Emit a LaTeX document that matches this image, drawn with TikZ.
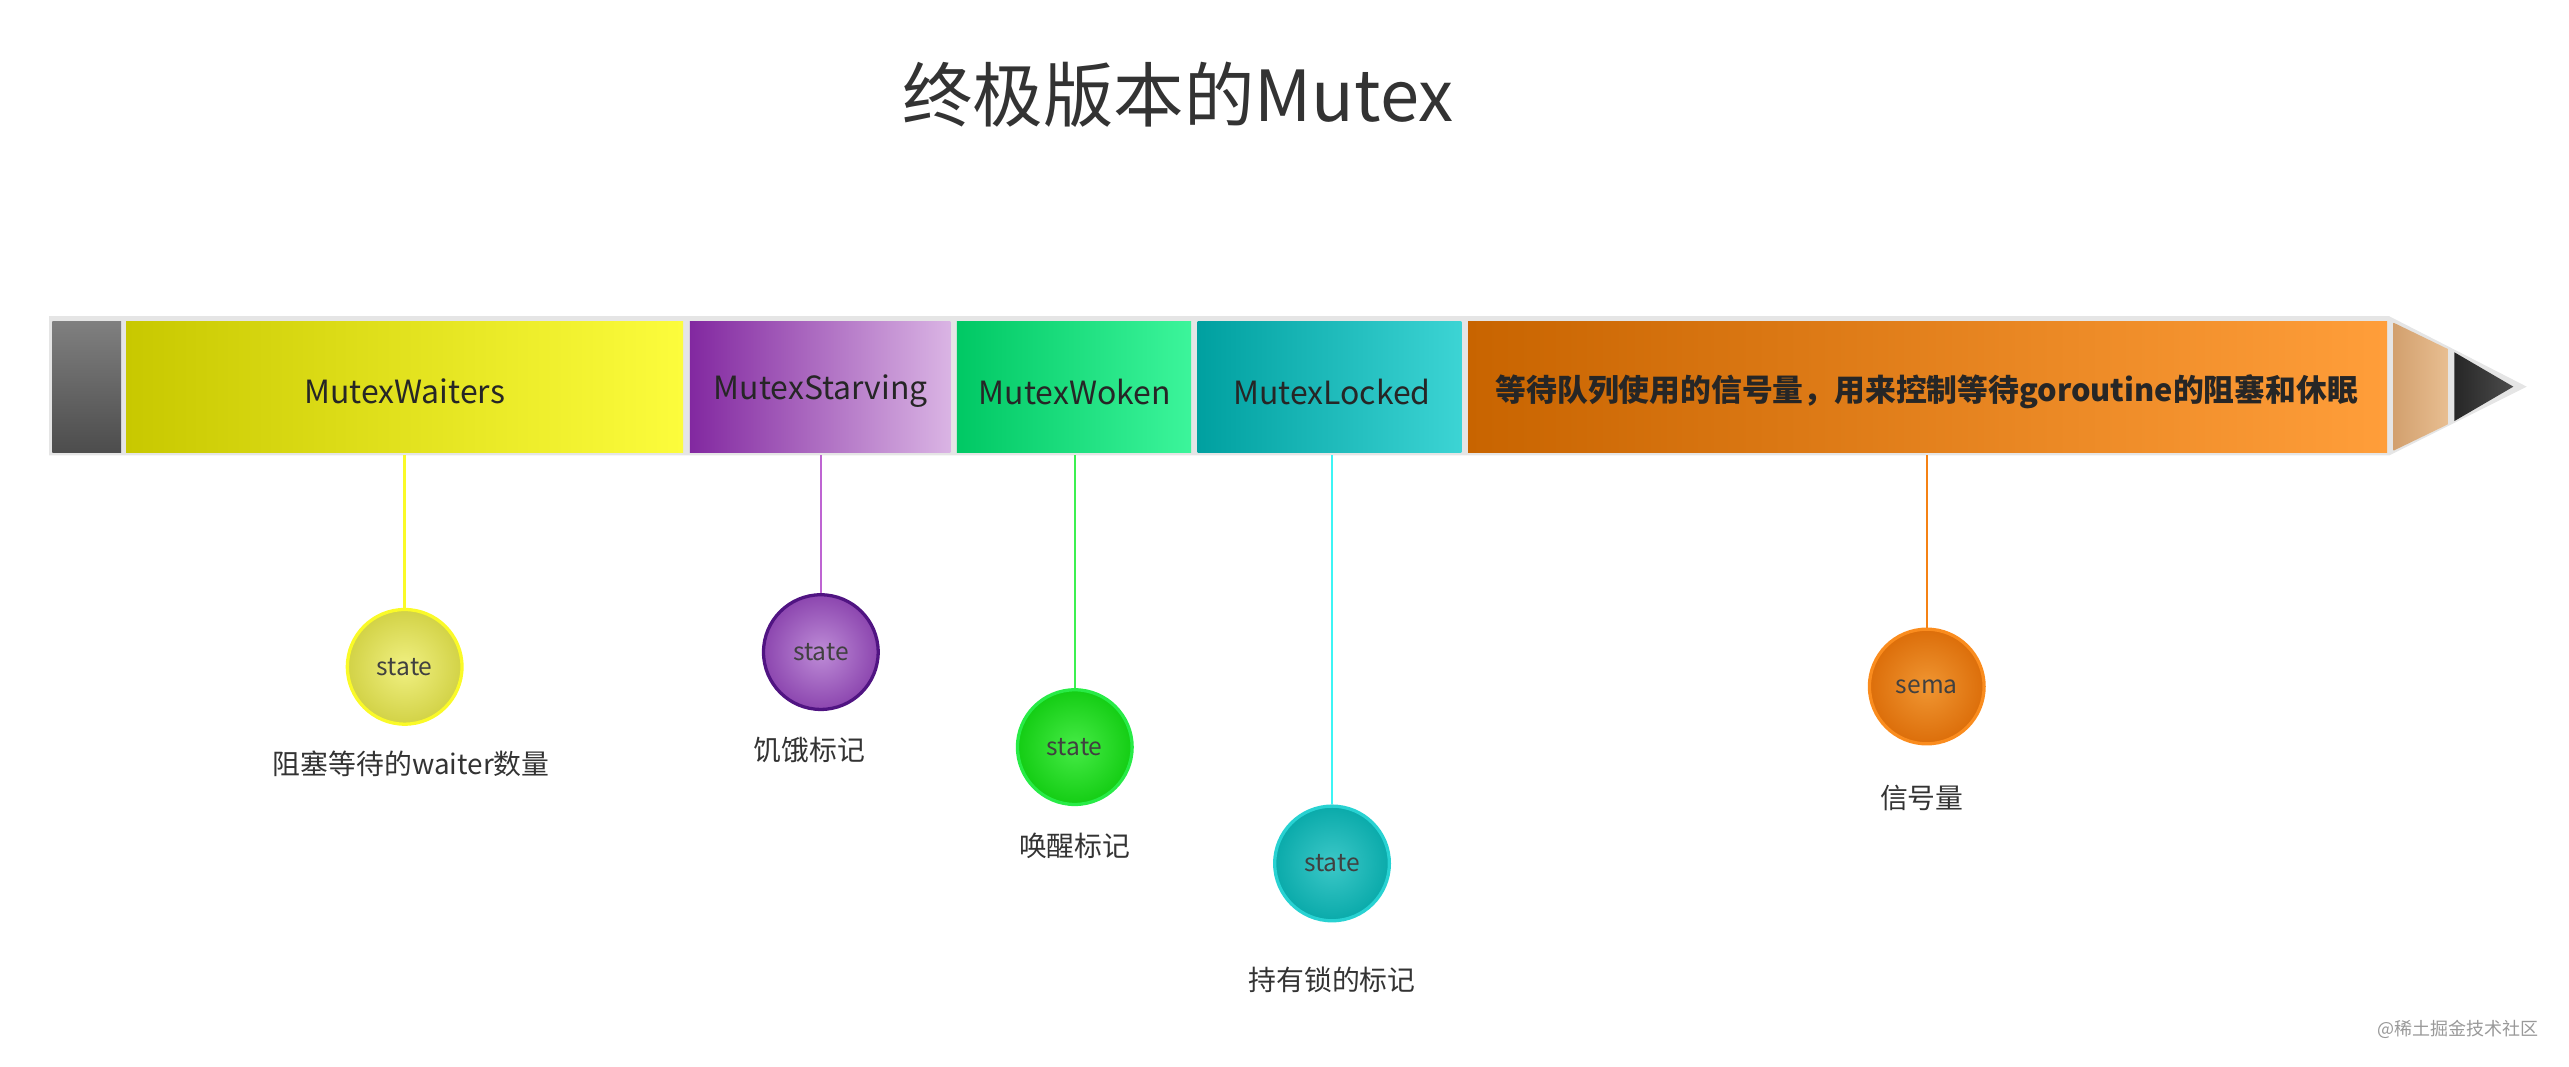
\documentclass[tikz,border=0pt]{standalone}
\usepackage{fontspec}
\setmainfont{Noto Sans CJK SC}
\begin{document}
\begin{tikzpicture}[x=1pt,y=-1pt,
 seg/.style={draw=black!10,line width=1.5pt},
 lab/.style={font=\fontsize{19.5}{22}\selectfont,text=black!85},
 circ/.style={circle,minimum size=70pt,inner sep=0pt,line width=2pt,font=\fontsize{15}{17}\selectfont,text=black!75},
 note/.style={font=\fontsize{17}{20}\selectfont,text=black!80},
 stem/.style={line width=1.5pt}]
\useasboundingbox (0,0) rectangle (1568,651);
\definecolor{ya}{RGB}{200,200,0}\definecolor{yb}{RGB}{252,252,60}
\definecolor{pa}{RGB}{130,40,160}\definecolor{pb}{RGB}{218,180,228}
\definecolor{ga}{RGB}{0,200,100}\definecolor{gb}{RGB}{60,245,155}
\definecolor{ta}{RGB}{0,160,160}\definecolor{tb}{RGB}{60,212,212}
\definecolor{oa}{RGB}{200,100,0}\definecolor{ob}{RGB}{255,158,58}
\node[font=\fontsize{43}{50}\selectfont,text=black!80] (title) at (719,58) {终极版本的Mutex};
% pencil outline
\draw[draw=black!10,line width=2pt,fill=black!10] (31,194) -- (1458,194) -- (1540,236) -- (1458,277) -- (31,277) -- cycle;
\shade[top color=black!50,bottom color=black!70] (32,196) rectangle (74,276);
\path[shading=axis,left color=ya,right color=yb] (77,196) rectangle (417,276);
\path[shading=axis,left color=pa,right color=pb] (421,196) rectangle (580,276);
\path[shading=axis,left color=ga,right color=gb] (584,196) rectangle (727,276);
\path[shading=axis,left color=ta,right color=tb] (731,196) rectangle (892,276);
\path[shading=axis,left color=oa,right color=ob] (896,196) rectangle (1457,276);
\path[shading=axis,left color={rgb,255:red,210;green,160;blue,110},right color={rgb,255:red,232;green,190;blue,145}] (1461,197) -- (1494,213) -- (1494,259) -- (1461,275) -- cycle;
\path[shading=axis,left color=black!85,right color=black!70] (1498,215) -- (1534,236) -- (1498,257) -- cycle;
\node[lab] (w) at (247,239) {MutexWaiters};
\node[lab] (s) at (501,239) {MutexStarving};
\node[lab] (k) at (656,239) {MutexWoken};
\node[lab] (l) at (813,239) {MutexLocked};
\node[lab,font=\fontsize{18.8}{22}\selectfont\bfseries] (o) at (1176,239) {等待队列使用的信号量，用来控制等待goroutine的阻塞和休眠};
\coordinate (w0) at (247,278); \coordinate (s0) at (501,278); \coordinate (k0) at (656,278);
\coordinate (l0) at (813,278); \coordinate (o0) at (1176,278);
\node[circ,draw={rgb,255:red,250;green,250;blue,40},inner color={rgb,255:red,240;green,240;blue,130},outer color={rgb,255:red,210;green,210;blue,70}] (c1) at (247,407) {state};
\node[circ,draw={rgb,255:red,80;green,20;blue,130},inner color={rgb,255:red,190;green,140;blue,215},outer color={rgb,255:red,140;green,70;blue,175}] (c2) at (501,398) {state};
\node[circ,draw={rgb,255:red,40;green,235;blue,70},inner color={rgb,255:red,70;green,235;blue,70},outer color={rgb,255:red,20;green,205;blue,20}] (c3) at (656,456) {state};
\node[circ,draw={rgb,255:red,40;green,210;blue,210},inner color={rgb,255:red,60;green,200;blue,200},outer color={rgb,255:red,10;green,170;blue,170}] (c4) at (813,527) {state};
\node[circ,draw={rgb,255:red,250;green,140;blue,30},inner color={rgb,255:red,240;green,150;blue,50},outer color={rgb,255:red,220;green,110;blue,10}] (c5) at (1176,419) {sema};
\draw[stem,draw={rgb,255:red,250;green,250;blue,40}] (w0) -- (c1);
\draw[stem,draw={rgb,255:red,190;green,100;blue,210}] (s0) -- (c2);
\draw[stem,draw={rgb,255:red,60;green,240;blue,80}] (k0) -- (c3);
\draw[stem,draw={rgb,255:red,60;green,245;blue,245}] (l0) -- (c4);
\draw[stem,draw={rgb,255:red,245;green,130;blue,20}] (o0) -- (c5);
\node[note] (n1) at (251,466) {阻塞等待的waiter数量};
\node[note] (n2) at (494,458) {饥饿标记};
\node[note] (n3) at (656,516) {唤醒标记};
\node[note] (n4) at (813,598) {持有锁的标记};
\node[note] (n5) at (1173,487) {信号量};
\node[font=\fontsize{11}{13}\selectfont,text=black!40,anchor=east] (wm) at (1553,628) {@稀土掘金技术社区};
\end{tikzpicture}
\end{document}
